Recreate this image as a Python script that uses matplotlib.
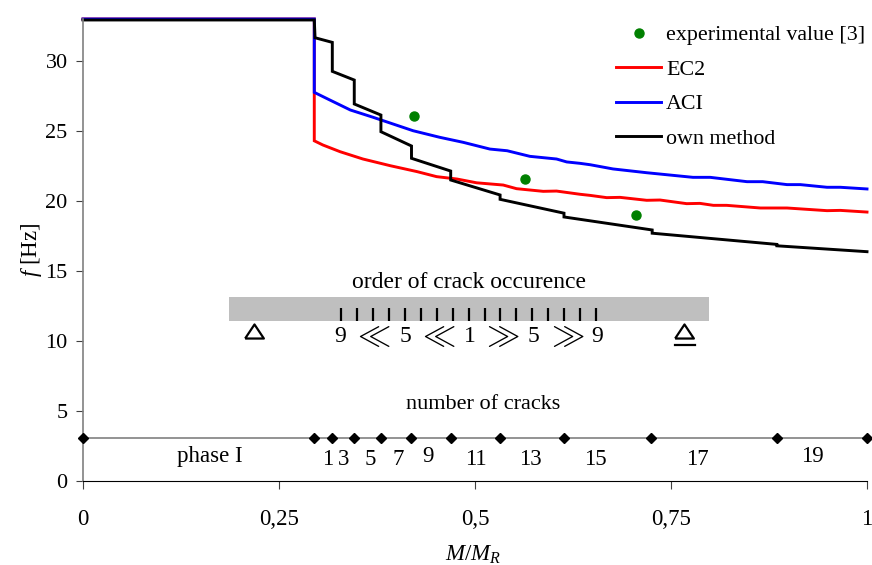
import matplotlib
matplotlib.use('Agg')
import matplotlib.pyplot as plt
import numpy as np

plt.rcParams['font.family'] = ['Liberation Serif', 'DejaVu Serif']
plt.rcParams['mathtext.fontset'] = 'custom'
plt.rcParams['mathtext.rm'] = 'Liberation Serif'
plt.rcParams['mathtext.it'] = 'Liberation Serif:italic'
plt.rcParams['font.size'] = 16.5

# values
ec2_x = [0, 0.295, 0.295, 0.306, 0.328, 0.357, 0.392, 0.426, 0.451, 0.477, 0.502, 0.536, 0.553,
         0.587, 0.604, 0.634, 0.647, 0.668, 0.685, 0.719, 0.736, 0.770, 0.787, 0.804, 0.821,
         0.864, 0.898, 0.949, 0.966, 1]
ec2_y = [33, 33, 24.3, 24.0, 23.52, 23.0, 22.52, 22.1, 21.74, 21.57, 21.3, 21.14, 20.88,
         20.69, 20.71, 20.48, 20.4, 20.24, 20.26, 20.05, 20.07, 19.81, 19.83, 19.69, 19.69,
         19.5, 19.5, 19.31, 19.33, 19.21]

aci_x = [0, 0.295, 0.295, 0.315, 0.341, 0.370, 0.421, 0.455, 0.485, 0.519, 0.541, 0.570, 0.604,
         0.617, 0.634, 0.647, 0.676, 0.719, 0.778, 0.800, 0.847, 0.867, 0.898, 0.915, 0.949,
         0.966, 1]
aci_y = [33, 33, 27.76, 27.21, 26.5, 25.98, 25.02, 24.55, 24.19, 23.71, 23.59, 23.19, 23.0,
         22.79, 22.69, 22.59, 22.29, 22.02, 21.69, 21.69, 21.38, 21.38, 21.17, 21.17, 20.98,
         20.98, 20.86]

own_x = [0, 0.295, 0.296, 0.318, 0.318, 0.346, 0.346, 0.380, 0.380, 0.419, 0.419, 0.469, 0.469,
         0.532, 0.532, 0.6135, 0.6135, 0.726, 0.726, 0.885, 0.885, 1]
own_y = [32.93, 32.93, 31.66, 31.33, 29.26, 28.64, 26.93, 26.14, 24.95, 23.93, 23.05, 22.14, 21.5,
         20.43, 20.12, 19.13, 18.86, 17.93, 17.7, 16.9, 16.8, 16.38]

exp_x = [0.422, 0.564, 0.705]
exp_y = [26.05, 21.55, 19.0]

crack_x = [0, 0.295, 0.318, 0.346, 0.380, 0.419, 0.469, 0.532, 0.6135, 0.724, 0.885, 1]
crack_y = [3.1] * len(crack_x)
crack_labels = ['phase I', '1', '3', '5', '7', '9', '11', '13', '15', '17', '19']
crack_label_x = [0.162, 0.312, 0.332, 0.366, 0.402, 0.440, 0.501, 0.570, 0.653, 0.783, 0.930]
crack_label_y = [1.75, 1.55, 1.55, 1.55, 1.55, 1.75, 1.55, 1.55, 1.55, 1.55, 1.75]

order_digits = ['9', '5', '1', '5', '9']
order_digit_x = [0.3284, 0.411, 0.4931, 0.574, 0.6556]
order_arrows = [r'$\ll$', r'$\ll$', r'$\gg$', r'$\gg$']
order_arrow_x = [0.3686, 0.4515, 0.5327, 0.616]

xticks = [0, 0.25, 0.5, 0.75, 1]
xticklabels = ['0', '0,25', '0,5', '0,75', '1']
yticks = [0, 5, 10, 15, 20, 25, 30]

fig = plt.figure(figsize=(8.72, 5.65), dpi=100)
ax = fig.add_axes([83 / 872, 1 - 481 / 565, 784 / 872, 462 / 565])

ax.plot(exp_x, exp_y, 'o', color='green', ms=6.5, label='experimental value [3]', zorder=5)
ax.plot(ec2_x, ec2_y, color='red', lw=2.1, label='EC2', clip_on=False, solid_joinstyle='miter')
ax.plot(aci_x, aci_y, color='blue', lw=2.1, label='ACI', clip_on=False, solid_joinstyle='miter')
ax.plot(own_x, own_y, color='black', lw=2.1, label='own method', clip_on=False, solid_joinstyle='miter')

# number of cracks strip
ax.plot(crack_x, crack_y, color='#808080', lw=1.2, zorder=2)
ax.plot(crack_x, crack_y, 'D', color='black', ms=4.6, clip_on=False, zorder=6)
for x, y, s in zip(crack_label_x, crack_label_y, crack_labels):
    ax.text(x, y, s, ha='center', va='center')
ax.text(0.511, 5.45, 'number of cracks', ha='center', va='center', fontsize=16)

# beam sketch
support = [(-1, -0.75), (1, -0.75), (0, 0.75), (-1, -0.75)]
ax.fill_between([0.186, 0.798], 11.43, 13.14, color='#bfbfbf', lw=0, zorder=1)
ax.vlines(np.linspace(0.3297, 0.654, 17), 11.43, 12.36, color='black', lw=1.6, zorder=3)
ax.plot([0.218, 0.767], [10.72, 10.72], marker=support, ls='none', ms=13.5, mfc='white', mec='black', mew=1.6, zorder=4)
ax.plot([0.755, 0.780], [9.72, 9.72], color='black', lw=1.6)
for x, s in zip(order_digit_x, order_digits):
    ax.text(x, 10.3, s, ha='center', va='center', fontsize=17)
for x, s in zip(order_arrow_x, order_arrows):
    ax.text(x, 10.3, s, ha='center', va='center', fontsize=24)
ax.text(0.4925, 14.15, 'order of crack occurence', ha='center', va='center', fontsize=17)

ax.set_xlim(0, 1)
ax.set_ylim(0, 33)
ax.set_xticks(xticks)
ax.set_xticklabels(xticklabels)
ax.set_yticks(yticks)
ax.tick_params(axis='x', length=6, width=0.8, color='#404040', pad=14)
ax.tick_params(axis='y', length=5, width=0.8, color='#404040', pad=6, labelsize=16)
ax.spines['top'].set_visible(False)
ax.spines['right'].set_visible(False)
ax.spines['left'].set_color('#808080')
ax.spines['left'].set_linewidth(1.2)
ax.spines['bottom'].set_linewidth(0.8)

ax.set_xlabel('$M/M_R$')
ax.set_ylabel('$f$ [Hz]')
ax.xaxis.set_label_coords(0.498, -0.135)
ax.yaxis.set_label_coords(-0.05, 0.5)

ax.legend(loc='upper left', bbox_to_anchor=(0.68, 0.987), frameon=False, fontsize=15.8, handlelength=2.05,
          handletextpad=0.23, labelspacing=0.645, borderpad=0, borderaxespad=0)

fig.savefig('out.png', dpi=100)
